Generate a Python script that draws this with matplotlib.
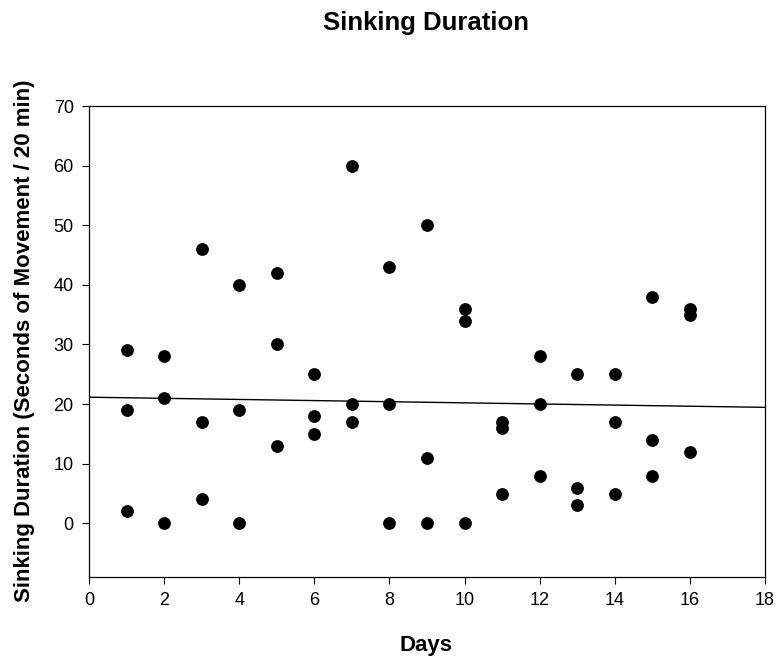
import matplotlib
matplotlib.use('Agg')
import matplotlib.pyplot as plt
import numpy as np

plt.rcParams['font.family'] = ['Liberation Sans', 'DejaVu Sans']

# 데이터 (일자별 3회 측정)
days = [1, 1, 1, 2, 2, 2, 3, 3, 3, 4, 4, 4, 5, 5, 5, 6, 6, 6, 7, 7, 7, 8, 8, 8,
        9, 9, 9, 10, 10, 10, 11, 11, 11, 12, 12, 12, 13, 13, 13, 14, 14, 14,
        15, 15, 15, 16, 16, 16]
durations = [29, 19, 2, 28, 21, 0, 46, 17, 4, 40, 19, 0, 42, 30, 13, 25, 18, 15,
             60, 20, 17, 43, 20, 0, 50, 11, 0, 36, 34, 0, 17, 16, 5, 28, 20, 8,
             25, 6, 3, 25, 17, 5, 38, 14, 8, 36, 35, 12]
x_ticks = [0, 2, 4, 6, 8, 10, 12, 14, 16, 18]
y_ticks = [0, 10, 20, 30, 40, 50, 60, 70]

W, H = 777, 658
fig = plt.figure(figsize=(W / 100, H / 100), dpi=100)
ax = fig.add_axes([89 / W, 1 - 577 / H, 676 / W, 471 / H])

ax.scatter(days, durations, s=85, c='black', zorder=3, linewidths=0)

# 회귀선
slope, intercept = np.polyfit(days, durations, 1)
xs = np.array([0, 18])
ax.plot(xs, slope * xs + intercept, color='black', linewidth=1)

ax.set_xlim(0, 18)
ax.set_ylim(-9, 70)
ax.set_xticks(x_ticks)
ax.set_yticks(y_ticks)
ax.tick_params(direction='out', length=5, width=0.8, labelsize=13, pad=6)
for sp in ax.spines.values():
    sp.set_linewidth(0.9)

fig.text(426 / W, 1 - 23 / H, 'Sinking Duration', ha='center', va='center',
         fontsize=18.5, fontweight='bold')
fig.text(426 / W, 1 - 645 / H, 'Days', ha='center', va='center',
         fontsize=16, fontweight='bold')
fig.text(25 / W, 1 - 341 / H, 'Sinking Duration (Seconds of Movement / 20 min)',
         ha='center', va='center', rotation=90, fontsize=16, fontweight='bold')

fig.savefig('out.png', dpi=100)
